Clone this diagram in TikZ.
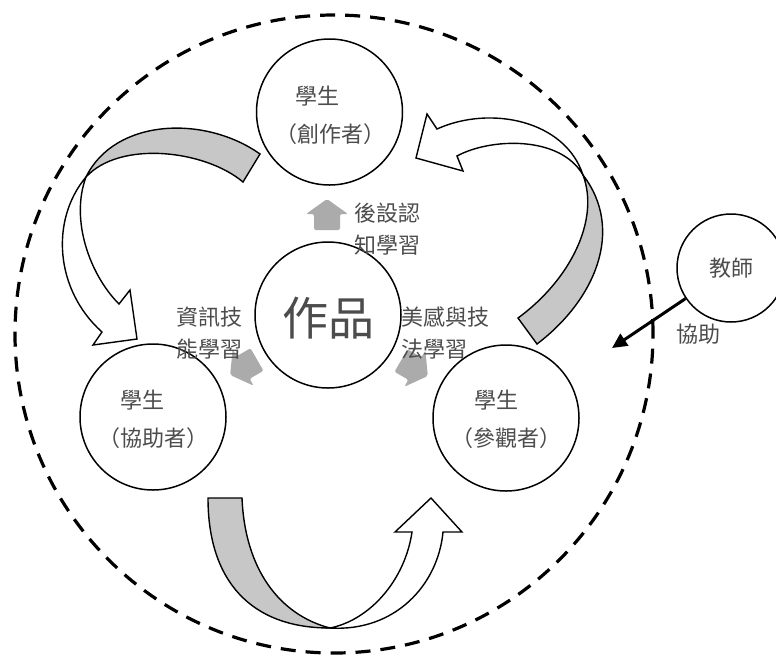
\documentclass[tikz,border=0pt]{standalone}
\usepackage{fontspec}
\setmainfont{Noto Sans CJK TC}
\usetikzlibrary{arrows.meta}
\newcommand\learnarrow[3]{%
  \fill[learnfill, shift={#1}, rotate=#2] (0,-16) -- (21,-1) -- (13,-1) -- (13,15) -- (-13,15) -- (-13,-1) -- (-21,-1) -- cycle;}
\begin{document}
\begin{tikzpicture}[x=1pt,y=-1pt,
  ring/.style={circle,draw=black,line width=1.5pt,minimum size=146pt,inner sep=0pt,fill=white},
  lbl/.style={text=black!70,font=\fontsize{22}{26}\selectfont,inner sep=0pt},
  band/.style={fill=black!22,draw=black,line width=1.4pt,line join=miter},
  body/.style={fill=white,draw=black,line width=1.4pt,line join=miter},
  learnfill/.style={fill=black!33,rounded corners=2pt},
  helparrow/.style={line width=3pt,-{Triangle[length=15pt,width=14pt]}}
]
\useasboundingbox (0,0) rectangle (776,657);
\fill[white] (0,0) rectangle (776,657);
% outer dashed boundary
\draw[line width=3.2pt, dash pattern=on 15pt off 10pt] (334,334) circle[radius=319pt];

% curved arrow 1 (creator -> helper)
\filldraw[band] (260,154) .. controls (205,115) and (115,118) .. (86,177) .. controls (120,140) and (205,150) .. (243,182) -- cycle;
\filldraw[body] (86,177) .. controls (50,220) and (55,290) .. (102,332) -- (93,345) -- (137,339) -- (130,290) -- (119,304) .. controls (90,275) and (70,220) .. (86,177) -- cycle;

% curved arrow 2 (visitor -> creator)
\filldraw[band] (537,344) .. controls (595,300) and (625,230) .. (583,175) .. controls (600,220) and (570,280) .. (518,318) -- cycle;
\filldraw[body] (583,175) .. controls (565,120) and (490,105) .. (437,129) -- (427,114) -- (416,158) -- (463,171) -- (457,156) .. controls (490,138) and (560,135) .. (583,175) -- cycle;

% curved arrow 3 (helper -> visitor)
\filldraw[band] (208,498) .. controls (208,580) and (250,628) .. (330,628) .. controls (280,615) and (245,570) .. (242,498) -- cycle;
\filldraw[body] (330,628) .. controls (395,632) and (438,585) .. (443,532) -- (462,532) -- (431,498) -- (395,532) -- (412,532) .. controls (405,580) and (370,620) .. (330,628) -- cycle;

% circles
\node[ring] (creator) at (329.5,112) {};
\node[ring] (work) at (328,315) {};
\node[ring] (helper) at (153,417) {};
\node[ring] (visitor) at (506,418) {};
\node[ring,minimum size=108pt] (teacher) at (731,268) {};

% learning arrows
\learnarrow{(327,215)}{0}{}
\learnarrow{(244,367)}{120}{}
\learnarrow{(414,368)}{-120}{}

% texts
\node[lbl] (c1) at (317,96) {學生};
\node[lbl] (c2) at (330,134) {（創作者）};
\node[lbl,font=\fontsize{46}{52}\selectfont] (w) at (328,318) {作品};
\node[lbl] (h1) at (142,400) {學生};
\node[lbl] (h2) at (153,438) {（協助者）};
\node[lbl] (v1) at (496,400) {學生};
\node[lbl] (v2) at (506,438) {（參觀者）};
\node[lbl] (tt) at (731,268) {教師};
\node[lbl] (th) at (698,334) {協助};
\node[lbl,anchor=west] (m1) at (354,213) {後設認};
\node[lbl,anchor=west] (m2) at (354,245) {知學習};
\node[lbl,anchor=west] (i1) at (176,317) {資訊技};
\node[lbl,anchor=west] (i2) at (176,349) {能學習};
\node[lbl,anchor=west] (a1) at (401,317) {美感與技};
\node[lbl,anchor=west] (a2) at (401,349) {法學習};

% teacher assistance arrow
\coordinate (helptip) at (612,348);
\draw[helparrow] (teacher) -- (helptip);
\end{tikzpicture}
\end{document}
